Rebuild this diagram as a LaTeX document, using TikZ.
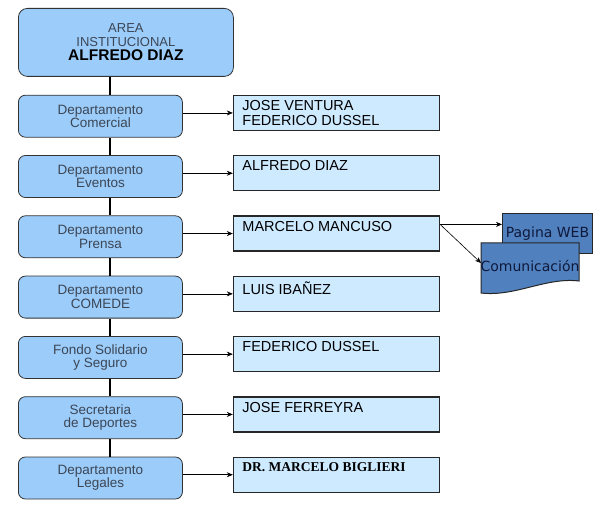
\documentclass[tikz,border=0pt]{standalone}
\usepackage{fontspec}
\setmainfont{Liberation Sans}
\newfontfamily\serifname{Liberation Serif}
\newfontfamily\dejavu{DejaVu Sans}
\usetikzlibrary{positioning,arrows.meta}
\definecolor{deptblue}{RGB}{155,204,250}
\definecolor{nameblue}{RGB}{206,234,255}
\definecolor{webblue}{RGB}{80,128,190}
\definecolor{depttext}{RGB}{60,70,85}
\definecolor{webtext}{RGB}{15,25,60}
\newcommand{\names}[1]{\parbox[t][25pt][t]{188pt}{#1}}
\tikzset{
	dept/.style={draw=black!80, fill=deptblue, rounded corners=7pt, line width=0.8pt, minimum width=164pt, minimum height=42pt, align=center, text=depttext, font=\fontsize{13.5}{13.5}\selectfont},
	person/.style={draw=black!85, fill=nameblue, line width=1.3pt, inner xsep=9pt, inner ysep=5pt, font=\fontsize{14.5}{15}\selectfont},
	webbox/.style={draw=black!85, fill=webblue, line width=1pt, inner sep=1pt, text=webtext, font=\dejavu\fontsize{14}{15}\selectfont},
	link/.style={-{Stealth[length=6pt,width=5pt]}, line width=0.6pt},
	stem/.style={line width=2.5pt}
}
\begin{document}
\begin{tikzpicture}[x=1pt,y=-1pt]
					\useasboundingbox (0,0) rectangle (600,513);
					% LEFT COLUMN
					\node[dept, anchor=north west, minimum width=215pt, minimum height=68pt, rounded corners=9pt, font=\fontsize{13}{14}\selectfont] (area) at (18,8) {AREA\\INSTITUCIONAL\\{\color{black}\fontsize{15.5}{17}\selectfont\bfseries ALFREDO DIAZ}};
					\node[dept, below=18pt of area.south west, anchor=north west] (comercial) {Departamento\\Comercial};
					\node[dept, below=17.5pt of comercial] (eventos) {Departamento\\Eventos};
					\node[dept, below=17.5pt of eventos] (prensa) {Departamento\\Prensa};
					\node[dept, below=17.5pt of prensa] (comede) {Departamento\\COMEDE};
					\node[dept, below=17.5pt of comede] (fondo) {Fondo Solidario\\y Seguro};
					\node[dept, below=17.5pt of fondo] (deportes) {Secretaria\\de Deportes};
					\node[dept, below=17.5pt of deportes] (legales) {Departamento\\Legales};
					\coordinate (stemx) at (110,0);
					\foreach \a/\b in {area/comercial,comercial/eventos,eventos/prensa,prensa/comede,comede/fondo,fondo/deportes,deportes/legales}
						\draw[stem] (\a.south -| stemx) -- (\b.north -| stemx);
					% RIGHT COLUMN
					\node[person, right=50pt of comercial.north east, anchor=north west] (ventura) {\names{JOSE VENTURA\\FEDERICO DUSSEL}};
					\node[person, right=50pt of eventos.north east, anchor=north west] (diaz) {\names{ALFREDO DIAZ}};
					\node[person, right=50pt of prensa.north east, anchor=north west] (mancuso) {\names{MARCELO MANCUSO}};
					\node[person, right=50pt of comede.north east, anchor=north west] (ibanez) {\names{LUIS IBAÑEZ}};
					\node[person, right=50pt of fondo.north east, anchor=north west] (dussel) {\names{FEDERICO DUSSEL}};
					\node[person, right=50pt of deportes.north east, anchor=north west] (ferreyra) {\names{JOSE FERREYRA}};
					\node[person, right=50pt of legales.north east, anchor=north west] (biglieri) {\names{\serifname\bfseries\fontsize{13.5}{15}\selectfont DR. MARCELO BIGLIERI}};
					\foreach \d/\p in {comercial/ventura,eventos/diaz,prensa/mancuso,comede/ibanez,fondo/dussel,deportes/ferreyra,legales/biglieri}
						\draw[link] (\p.west -| \d.east) -- (\p.west);
					% PRENSA
					\node[webbox, anchor=north west, minimum width=90pt, minimum height=40pt] (web) at (502,213) {Pagina WEB};
					\node[webbox, draw=none, fill=none, anchor=north west, minimum width=97pt, minimum height=49pt] (comunicacion) at (481,243) {};
					\filldraw[draw=black!85, fill=webblue, line width=1pt] (comunicacion.north west) -- (comunicacion.north east) -- ([yshift=12pt]comunicacion.south east) .. controls ([xshift=-33pt,yshift=16pt]comunicacion.south east) and ([xshift=34pt,yshift=-4pt]comunicacion.south west) .. (comunicacion.south west) -- cycle;
					\node[webbox, draw=none, fill=none] at ([yshift=2pt]comunicacion.center) {Comunicación};
					\coordinate (prensaout) at ([yshift=-9pt]mancuso.north east);
					\draw[link] (prensaout) -- (prensaout -| web.west);
					\draw[link] (prensaout) -- ([yshift=5pt]comunicacion.west);
				\end{tikzpicture}
\end{document}
